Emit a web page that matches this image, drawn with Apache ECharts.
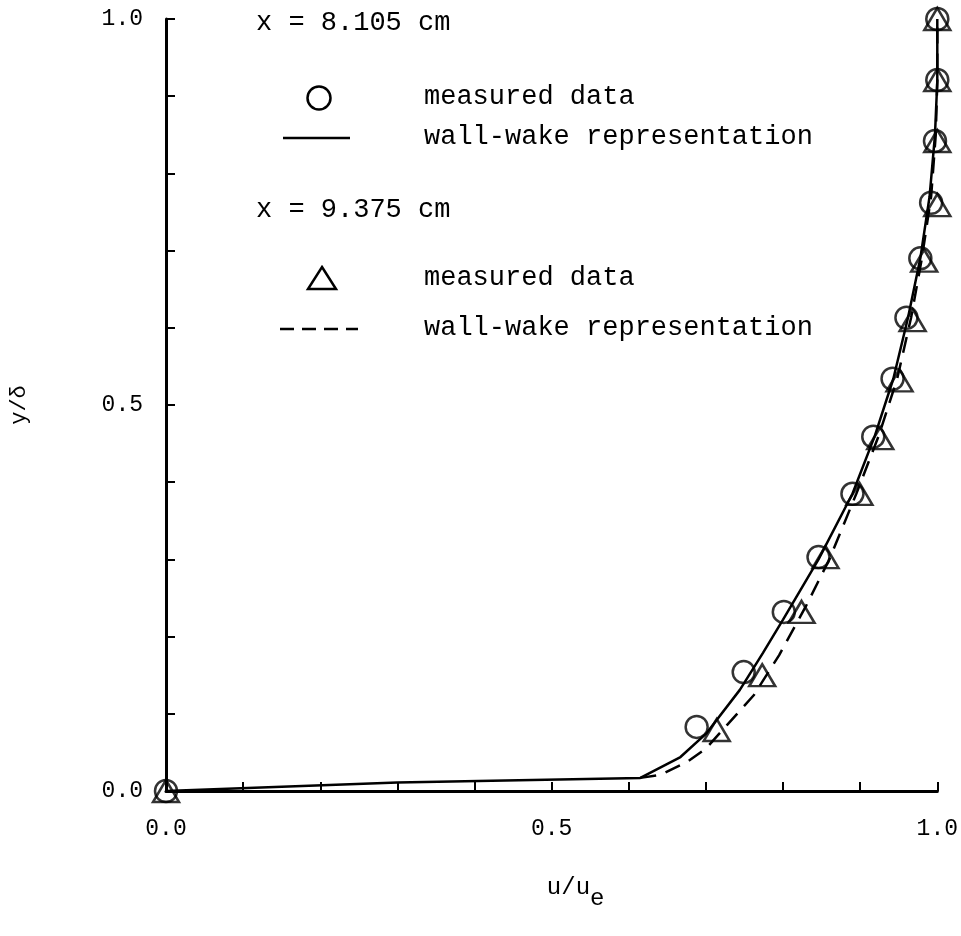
<!DOCTYPE html>
<html><head><meta charset="utf-8">
<script src="https://cdn.jsdelivr.net/npm/echarts@6/dist/echarts.min.js"></script>
<style>html,body{margin:0;padding:0;background:#fff}#c{width:961px;height:936px}</style>
</head><body><div id="c"></div>
<script>
// measured data, x = 8.105 cm (circles)
const circleU = [0.0, 0.688, 0.749, 0.801, 0.846, 0.890, 0.917, 0.942, 0.960, 0.978, 0.992, 0.997, 1.0, 1.0];
const circleY = [0.0, 0.083, 0.154, 0.232, 0.303, 0.385, 0.459, 0.534, 0.613, 0.690, 0.762, 0.842, 0.921, 1.0];
// measured data, x = 9.375 cm (triangles)
const triU = [0.0, 0.714, 0.773, 0.824, 0.855, 0.899, 0.926, 0.951, 0.968, 0.983, 1.0, 1.0, 1.0, 1.0];
const triY = [0.0, 0.079, 0.150, 0.232, 0.303, 0.385, 0.457, 0.532, 0.610, 0.687, 0.759, 0.842, 0.921, 1.0];
// wall-wake representation, x = 8.105 cm (solid)
const solidU = [0.0, 0.30, 0.615, 0.667, 0.701, 0.744, 0.774, 0.800, 0.846, 0.890, 0.919, 0.943, 0.962, 0.978, 0.990, 0.997, 1.0, 1.0];
const solidY = [0.0, 0.011, 0.017, 0.044, 0.075, 0.131, 0.179, 0.222, 0.300, 0.385, 0.460, 0.534, 0.613, 0.690, 0.770, 0.850, 0.920, 1.0];
// wall-wake representation, x = 9.375 cm (dashed)
const dashU = [0.615, 0.641, 0.676, 0.700, 0.727, 0.762, 0.795, 0.830, 0.860, 0.895, 0.924, 0.948, 0.966, 0.980, 0.992, 0.998, 1.0, 1.0];
const dashY = [0.017, 0.021, 0.038, 0.055, 0.085, 0.124, 0.176, 0.240, 0.300, 0.385, 0.460, 0.534, 0.613, 0.690, 0.770, 0.850, 0.920, 1.0];
const tickLabels = ['0.0', '0.5', '1.0'];

const zip = (a, b) => a.map((v, i) => [v, b[i]]);
const FONT = '"Liberation Mono", "DejaVu Sans Mono", monospace';
const fmt = v => { const s = Number(v).toFixed(1); return tickLabels.includes(s) ? s : ''; };
const LF = '27px ' + FONT;

const chart = echarts.init(document.getElementById('c'), null, {renderer: 'canvas'});
const axisCommon = {
  type: 'value', min: 0, max: 1, interval: 0.1,
  axisLine: {show: true, lineStyle: {color: '#000', width: 3}},
  axisTick: {show: true, inside: true, length: 9, lineStyle: {color: '#000', width: 2}},
  splitLine: {show: false},
  axisLabel: {formatter: fmt, color: '#000', fontFamily: FONT, fontSize: 23, showMinLabel: true, showMaxLabel: true}
};
chart.setOption({
  animation: false,
  backgroundColor: '#fff',
  grid: {left: 164, right: 13, top: 19, bottom: 145, containLabel: false},
  xAxis: Object.assign({}, axisCommon, {
    name: '{a|u/u}{b|e}', nameLocation: 'middle', nameGap: 74,
    nameTextStyle: {padding: [0, 0, 0, 48], rich: {
      a: {fontFamily: FONT, fontSize: 24, color: '#000'},
      b: {fontFamily: FONT, fontSize: 24, color: '#000', padding: [22, 0, 0, 0]}
    }},
    axisLabel: Object.assign({}, axisCommon.axisLabel, {margin: 26})
  }),
  yAxis: Object.assign({}, axisCommon, {
    name: 'y/δ', nameLocation: 'middle', nameGap: 136, nameRotate: 90,
    nameTextStyle: {fontFamily: FONT, fontSize: 22, color: '#000'},
    axisLabel: Object.assign({}, axisCommon.axisLabel, {margin: 23})
  }),
  series: [
    {type: 'line', data: zip(solidU, solidY), symbol: 'none', smooth: false,
     lineStyle: {color: '#000', width: 2.5}, z: 3},
    {type: 'line', data: zip(dashU, dashY), symbol: 'none', smooth: false,
     lineStyle: {color: '#000', width: 2.5, type: [16, 10]}, z: 3},
    {type: 'scatter', data: zip(circleU, circleY), symbol: 'circle', symbolSize: 22,
     itemStyle: {color: 'rgba(0,0,0,0)', borderColor: '#000', borderWidth: 2.5}, z: 4},
    {type: 'scatter', data: zip(triU, triY), symbol: 'triangle', symbolSize: [26, 22],
     itemStyle: {color: 'rgba(0,0,0,0)', borderColor: '#000', borderWidth: 2.5}, z: 4}
  ],
  graphic: [
    {type: 'text', left: 256, top: 9, style: {text: 'x = 8.105 cm', font: LF, fill: '#000'}},
    {type: 'circle', shape: {cx: 319, cy: 98, r: 11.5}, style: {fill: 'none', stroke: '#000', lineWidth: 2.5}},
    {type: 'text', left: 424, top: 83, style: {text: 'measured data', font: LF, fill: '#000'}},
    {type: 'line', shape: {x1: 283, y1: 138, x2: 350, y2: 138}, style: {stroke: '#000', lineWidth: 2.5}},
    {type: 'text', left: 424, top: 123, style: {text: 'wall-wake representation', font: LF, fill: '#000'}},
    {type: 'text', left: 256, top: 196, style: {text: 'x = 9.375 cm', font: LF, fill: '#000'}},
    {type: 'polygon', shape: {points: [[322, 267], [336, 289], [308, 289]]}, style: {fill: 'none', stroke: '#000', lineWidth: 2.5}},
    {type: 'text', left: 424, top: 264, style: {text: 'measured data', font: LF, fill: '#000'}},
    {type: 'line', shape: {x1: 280, y1: 329, x2: 358, y2: 329}, style: {stroke: '#000', lineWidth: 2.5, lineDash: [14, 8]}},
    {type: 'text', left: 424, top: 314, style: {text: 'wall-wake representation', font: LF, fill: '#000'}}
  ]
});
</script></body></html>
